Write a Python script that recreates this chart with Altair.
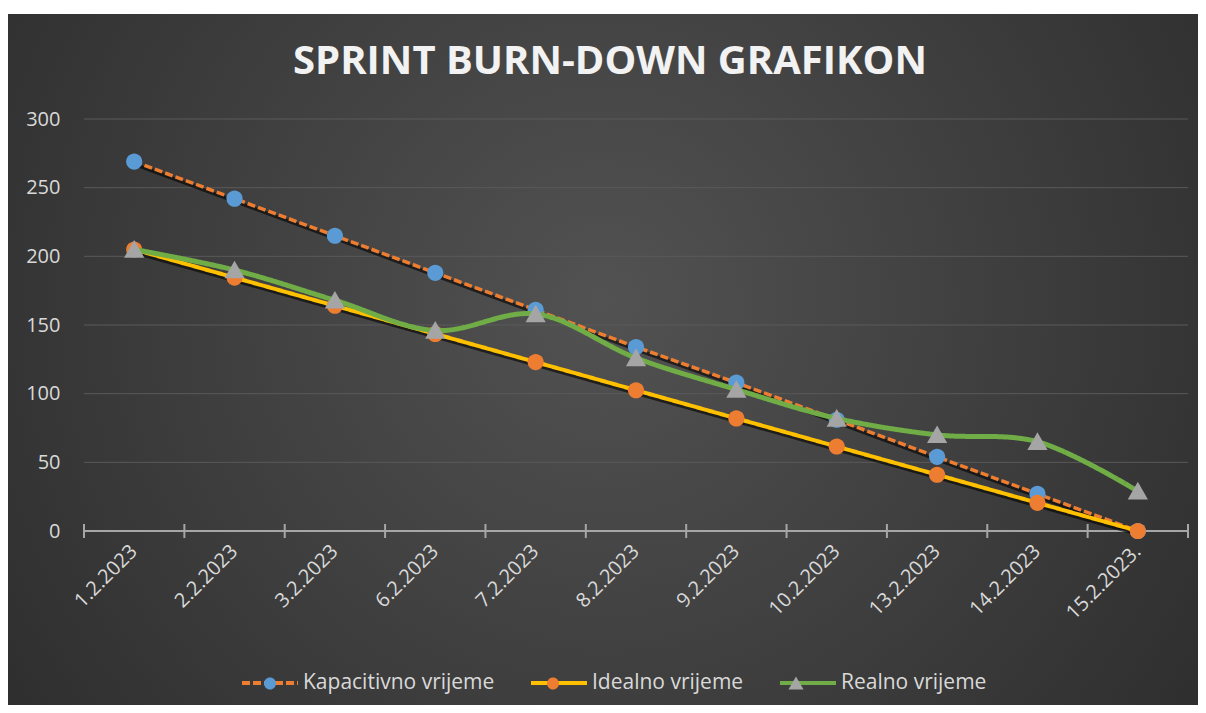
import altair as alt
import pandas as pd

# ---------------- data ----------------
categories = ["1.2.2023", "2.2.2023", "3.2.2023", "6.2.2023", "7.2.2023", "8.2.2023",
              "9.2.2023", "10.2.2023", "13.2.2023", "14.2.2023", "15.2.2023."]
kapacitivno = [269, 242, 215, 188, 161, 134, 108, 81, 54, 27, 0]
idealno = [205, 184.5, 164, 143.5, 123, 102.5, 82, 61.5, 41, 20.5, 0]
realno = [205, 190, 168, 146, 158, 126, 103, 82, 70, 65, 29]
series = ["Kapacitivno vrijeme", "Idealno vrijeme", "Realno vrijeme"]
marker_codes = ["K", "I", "R"]
y_ticks = [0, 50, 100, 150, 200, 250, 300]
title_text = "SPRINT BURN-DOWN GRAFIKON"

# ---------------- style ----------------
line_colors = ["#ED7D31", "#FFC000", "#70AD47"]
marker_colors = ["#5B9BD5", "#ED7D31", "#A5A5A5"]
label_color = "#D9D9D9"
FONT = "Open Sans"
W, H = 1104, 412
PAD = {"left": 76, "top": 111, "right": 10, "bottom": 174}

CIRCLE = "M-0.215,0A0.215,0.215,0,1,0,0.215,0A0.215,0.215,0,1,0,-0.215,0Z"
TRIANGLE = "M0,-0.25L0.27,0.22L-0.27,0.22Z"

rows = []
for s, c, vals in zip(series, marker_codes, [kapacitivno, idealno, realno]):
    for d, v in zip(categories, vals):
        rows.append({"date": d, "value": v, "series": s, "code": c})
df = pd.DataFrame(rows)

x_scale = alt.Scale(type="band", domain=categories, paddingInner=0, paddingOuter=0)
x_axis = alt.Axis(labelAngle=-45, labelAlign="right", labelBaseline="middle",
                  labelFontSize=20, labelFont=FONT, labelColor=label_color,
                  labelPadding=17, ticks=False, domain=False, grid=False,
                  labelOverlap=False, zindex=1)
y_axis = alt.Axis(values=y_ticks, labelFontSize=20, labelFont=FONT, labelColor=label_color,
                  labelPadding=24, ticks=False, domain=False, grid=False, zindex=1)

x_enc = alt.X("date:N", scale=x_scale, axis=x_axis, title=None, bandPosition=0.5)
y_enc = alt.Y("value:Q", scale=alt.Scale(domain=[0, 300], nice=False), axis=y_axis, title=None)

legend_common = dict(orient="none", legendX=156, legendY=534, direction="horizontal",
                     title=None, labelFontSize=21, labelFont=FONT, labelColor=label_color,
                     labelLimit=400, symbolSize=3136, symbolStrokeWidth=4,
                     columnPadding=28, labelOffset=3)

stroke_legend = alt.Legend(symbolType="stroke", zindex=1, **legend_common)
label_expr = " : ".join(f"datum.label == '{c}' ? '{s}'" for c, s in zip(marker_codes[:-1], series[:-1])) \
    + f" : '{series[-1]}'"
fill_legend = alt.Legend(labelExpr=label_expr, labelOpacity=0, zindex=2, **legend_common)

stroke_enc = alt.Stroke("series:N", scale=alt.Scale(domain=series, range=line_colors), legend=stroke_legend)
dash_enc = alt.StrokeDash("series:N", scale=alt.Scale(domain=series, range=[[8, 3], [1, 0], [1, 0]]),
                          legend=stroke_legend)
fill_enc = alt.Fill("code:N", scale=alt.Scale(domain=marker_codes, range=marker_colors), legend=fill_legend)
shape_enc = alt.Shape("code:N", scale=alt.Scale(domain=marker_codes, range=[CIRCLE, CIRCLE, TRIANGLE]),
                      legend=fill_legend)

gradient = {
    "gradient": "radial",
    "x1": 0.5, "y1": 0.45, "r1": 0,
    "x2": 0.5, "y2": 0.45, "r2": 0.75,
    "stops": [{"offset": 0, "color": "#525252"}, {"offset": 1, "color": "#262626"}],
}

one = alt.Data(values=[{"a": 1}])
bg = alt.Chart(one).mark_rect(fill=gradient).encode(
    x=alt.value(-PAD["left"]), x2=alt.value(W + PAD["right"]),
    y=alt.value(-105), y2=alt.value(H + PAD["bottom"]))

grid = alt.Chart(pd.DataFrame({"value": y_ticks[1:]})).mark_rule(
    color="#5A5A5A", strokeWidth=1).encode(y=y_enc)
axis_line = alt.Chart(pd.DataFrame({"value": [0]})).mark_rule(
    color="#A6A6A6", strokeWidth=2).encode(y=y_enc)
ticks = alt.Chart(pd.DataFrame({"date": categories})).mark_rule(
    color="#A6A6A6", strokeWidth=2).encode(
    x=alt.X("date:N", scale=x_scale, axis=x_axis, title=None, bandPosition=0),
    y=alt.value(H - 7), y2=alt.value(H + 7))
end_tick = alt.Chart(pd.DataFrame({"date": categories[-1:]})).mark_rule(
    color="#A6A6A6", strokeWidth=2).encode(
    x=alt.X("date:N", scale=x_scale, axis=x_axis, title=None, bandPosition=1),
    y=alt.value(H - 7), y2=alt.value(H + 7))


def series_layers(name, width, interp, shadow):
    base = alt.Chart(df).transform_filter(alt.datum.series == name)
    out = []
    if shadow:
        out.append(base.mark_line(stroke="black", strokeWidth=width, opacity=0.6,
                                  xOffset=1, yOffset=3, interpolate=interp).encode(x=x_enc, y=y_enc))
    out.append(base.mark_line(strokeWidth=width, interpolate=interp).encode(
        x=x_enc, y=y_enc, stroke=stroke_enc, strokeDash=dash_enc))
    out.append(base.mark_point(filled=True, size=5625, opacity=1, strokeWidth=0).encode(
        x=x_enc, y=y_enc, fill=fill_enc, shape=shape_enc))
    return out


layers = [bg, grid, axis_line, ticks, end_tick]
layers += series_layers(series[0], 3.5, "linear", True)
layers += series_layers(series[1], 4, "linear", True)
layers += series_layers(series[2], 5, "catmull-rom", False)

chart = alt.layer(*layers).properties(
    width=W, height=H,
    autosize=alt.AutoSizeParams(type="none"),
    padding=PAD,
    background="white",
    title=alt.TitleParams(text=title_text, font=FONT, fontSize=40, fontWeight="bold",
                          color="#F2F2F2", anchor="middle", frame="group",
                          baseline="alphabetic", offset=-100, dx=-26),
).configure_view(stroke=None)

chart.save("out.html", embed_options={"renderer": "svg", "actions": False})
